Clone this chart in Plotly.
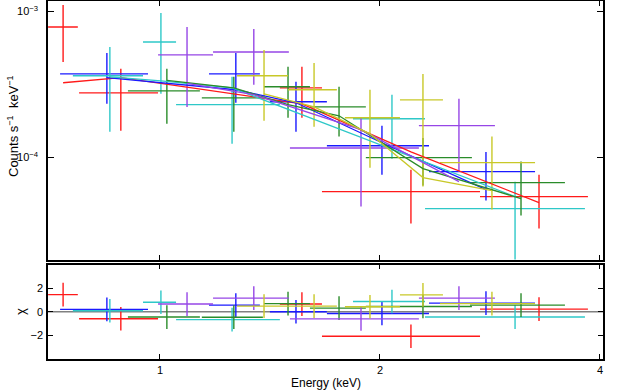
import plotly.graph_objects as go

W, H = 618, 392

# ---------------- data (energy in keV, rate in counts/s/keV) ----------------
red_E = [0.737, 0.884, 1.564, 2.205, 3.301]
red_Elo = [0.703, 0.775, 1.459, 1.666, 2.741]
red_Ehi = [0.772, 0.994, 1.666, 2.741, 3.851]
red_rate = [7.85e-4, 2.77e-4, 3.00e-4, 5.82e-5, 5.38e-5]
red_hi = [1.11e-3, 4.05e-4, 4.18e-4, 8.23e-5, 7.61e-5]
red_lo = [4.52e-4, 1.52e-4, 1.87e-4, 3.52e-5, 3.25e-5]
red_model = [3.25e-4, 3.52e-4, 2.33e-4, 1.09e-4, 4.89e-5]
red_chi = [1.45, -0.59, 0.65, -2.07, 0.22]

blue_E = [0.846, 1.270, 1.535, 2.0125, 2.793]
blue_Elo = [0.730, 1.167, 1.414, 1.692, 2.334]
blue_Ehi = [0.963, 1.370, 1.692, 2.334, 3.260]
blue_rate = [3.74e-4, 3.74e-4, 2.41e-4, 1.20e-4, 7.98e-5]
blue_hi = [5.21e-4, 5.21e-4, 3.30e-4, 1.65e-4, 1.09e-4]
blue_lo = [2.33e-4, 2.37e-4, 1.50e-4, 7.61e-5, 5.05e-5]
blue_model = [3.52e-4, 2.91e-4, 2.37e-4, 1.26e-4, 6.01e-5]
blue_chi = [0.2, 0.56, 0.0, -0.15, 0.73]

cyan_E = [0.854, 1.003, 1.255, 2.077, 3.061]
cyan_Elo = [0.760, 0.948, 1.052, 1.837, 2.305]
cyan_Ehi = [0.948, 1.052, 1.459, 2.305, 3.815]
cyan_rate = [3.63e-4, 6.19e-4, 2.30e-4, 1.84e-4, 4.45e-5]
cyan_hi = [5.72e-4, 9.79e-4, 3.57e-4, 2.69e-4, 6.81e-5]
cyan_lo = [1.50e-4, 2.73e-4, 1.24e-4, 9.80e-5, 1.5e-5]
cyan_model = [3.57e-4, 3.35e-4, 3.00e-4, 1.13e-4, 5.38e-5]
cyan_chi = [0.08, 0.8, -0.67, 0.87, -0.45]

green_E = [1.022, 1.262, 1.497, 1.758, 2.290, 3.119]
green_Elo = [0.904, 1.141, 1.388, 1.604, 1.913, 2.656]
green_Ehi = [1.134, 1.383, 1.604, 1.913, 2.672, 3.582]
green_rate = [2.86e-4, 2.56e-4, 3.05e-4, 2.22e-4, 9.95e-5, 6.71e-5]
green_hi = [4.05e-4, 3.57e-4, 4.18e-4, 3.05e-4, 1.36e-4, 9.35e-5]
green_lo = [1.70e-4, 1.50e-4, 1.87e-4, 1.39e-4, 6.40e-5, 3.99e-5]
green_model = [3.38e-4, 3.00e-4, 2.30e-4, 1.93e-4, 8.37e-5, 5.21e-5]
green_chi = [-0.45, -0.46, 0.69, 0.31, 0.45, 0.56]

purple_E = [1.089, 1.344, 1.884, 2.565]
purple_Elo = [0.994, 1.182, 1.506, 2.261]
purple_Ehi = [1.182, 1.501, 2.261, 2.873]
purple_rate = [5.05e-4, 5.29e-4, 1.16e-4, 1.65e-4]
purple_hi = [7.85e-4, 7.61e-4, 1.87e-4, 2.52e-4]
purple_lo = [2.22e-4, 3.15e-4, 4.60e-5, 7.98e-5]
purple_model = [3.22e-4, 2.69e-4, 1.55e-4, 6.81e-5]
purple_chi = [0.65, 1.15, -0.6, 1.15]

yellow_E = [1.388, 1.625, 1.938, 2.290, 2.846]
yellow_Elo = [1.275, 1.497, 1.791, 2.130, 2.416]
yellow_Ehi = [1.497, 1.746, 2.130, 2.439, 3.260]
yellow_rate = [3.63e-4, 2.91e-4, 1.87e-4, 2.48e-4, 9.20e-5]
yellow_hi = [5.46e-4, 4.45e-4, 2.91e-4, 3.74e-4, 1.39e-4]
yellow_lo = [1.78e-4, 1.62e-4, 8.50e-5, 6.30e-5, 4.38e-5]
yellow_model = [2.73e-4, 2.22e-4, 1.45e-4, 7.26e-5, 5.91e-5]
yellow_chi = [0.48, 0.48, 0.42, 1.43, 0.69]

x_major = [1, 2, 4]
x_major_text = ["1", "2", "4"]
x_minor = [0.8, 0.9, 3]
y_major = [1e-4, 1e-3]
y_major_text = ["10<sup>\u22124</sup>", "10<sup>\u22123</sup>"]
y_minor = [2e-5, 3e-5, 4e-5, 5e-5, 6e-5, 7e-5, 8e-5, 9e-5,
           2e-4, 3e-4, 4e-4, 5e-4, 6e-4, 7e-4, 8e-4, 9e-4]
chi_ticks = [-2, 0, 2]
chi_text = ["\u22122", "0", "2"]

datasets = [
    ("#ff1a1a", red_E, red_Elo, red_Ehi, red_rate, red_hi, red_lo, red_model, red_chi),
    ("#1a1aff", blue_E, blue_Elo, blue_Ehi, blue_rate, blue_hi, blue_lo, blue_model, blue_chi),
    ("#2ec8c8", cyan_E, cyan_Elo, cyan_Ehi, cyan_rate, cyan_hi, cyan_lo, cyan_model, cyan_chi),
    ("#2a8c2a", green_E, green_Elo, green_Ehi, green_rate, green_hi, green_lo, green_model, green_chi),
    ("#9646e6", purple_E, purple_Elo, purple_Ehi, purple_rate, purple_hi, purple_lo, purple_model, purple_chi),
    ("#c8c828", yellow_E, yellow_Elo, yellow_Ehi, yellow_rate, yellow_hi, yellow_lo, yellow_model, yellow_chi),
]

# ---------------- layout geometry ----------------
X0, X1 = 48, 603             # plot left/right in px
TOP_Y0, TOP_Y1 = 1, 259.5    # top panel (px from top)
BOT_Y0, BOT_Y1 = 264.5, 359  # residual panel

def py(p):
    return (H - p) / H

xdom = [X0 / W, X1 / W]
xrange_log = [-0.1532, 0.6062]

fig = go.Figure()

FONT = "Liberation Sans, Arial, Helvetica, sans-serif"

for (c, E, Elo, Ehi, rate, hi, lo, model, chi) in datasets:
    exp = [h - e for h, e in zip(Ehi, E)]
    exm = [e - l for e, l in zip(E, Elo)]
    eyp = [h - r for h, r in zip(hi, rate)]
    eym = [r - l for r, l in zip(rate, lo)]
    fig.add_trace(go.Scatter(
        x=E, y=rate, mode="markers",
        marker=dict(size=1, color="rgba(0,0,0,0)"),
        error_x=dict(type="data", symmetric=False, array=exp, arrayminus=exm,
                     width=0, thickness=1.4, color=c),
        error_y=dict(type="data", symmetric=False, array=eyp, arrayminus=eym,
                     width=0, thickness=1.4, color=c),
        xaxis="x", yaxis="y", showlegend=False, hoverinfo="skip"))
    fig.add_trace(go.Scatter(
        x=E, y=chi, mode="markers",
        marker=dict(size=1, color="rgba(0,0,0,0)"),
        error_x=dict(type="data", symmetric=False, array=exp, arrayminus=exm,
                     width=0, thickness=1.4, color=c),
        error_y=dict(type="constant", value=1, width=0, thickness=1.4, color=c),
        xaxis="x2", yaxis="y2", showlegend=False, hoverinfo="skip"))

for (c, E, Elo, Ehi, rate, hi, lo, model, chi) in datasets:
    fig.add_trace(go.Scatter(
        x=E, y=model, mode="lines", line=dict(color=c, width=1.3),
        xaxis="x", yaxis="y", showlegend=False, hoverinfo="skip"))

axis_common = dict(showgrid=False, zeroline=False, ticks="inside",
                   tickcolor="black", showline=True, linecolor="black",
                   linewidth=1.5, mirror="ticks", tickwidth=1,
                   tickfont=dict(family=FONT, size=11, color="black"))
minor_common = dict(showgrid=False, zeroline=False, ticks="inside",
                    tickcolor="black", showline=False, mirror="ticks",
                    tickwidth=1, showticklabels=False, ticklen=3)

fig.update_layout(
    width=W, height=H,
    margin=dict(l=0, r=0, t=0, b=0),
    paper_bgcolor="white", plot_bgcolor="white",
    font=dict(family=FONT, size=12, color="black"),
    xaxis=dict(axis_common, domain=xdom, anchor="y", type="log", range=xrange_log,
               tickmode="array", tickvals=x_major, showticklabels=False, ticklen=5),
    xaxis3=dict(minor_common, overlaying="x", anchor="y", type="log", range=xrange_log,
                tickmode="array", tickvals=x_minor),
    yaxis=dict(axis_common, domain=[py(TOP_Y1), py(TOP_Y0)], anchor="x", type="log",
               range=[-4.701, -2.927], tickmode="array", tickvals=y_major,
               ticktext=y_major_text, ticklen=6, ticklabelstandoff=6),
    yaxis3=dict(minor_common, overlaying="y", anchor="x", type="log",
                range=[-4.701, -2.927], tickmode="array", tickvals=y_minor),
    xaxis2=dict(axis_common, domain=xdom, anchor="y2", type="log", range=xrange_log,
                tickmode="array", tickvals=x_major, ticktext=x_major_text, ticklen=5),
    xaxis4=dict(minor_common, overlaying="x2", anchor="y2", type="log", range=xrange_log,
                tickmode="array", tickvals=x_minor),
    yaxis2=dict(axis_common, domain=[py(BOT_Y1), py(BOT_Y0)], anchor="x2",
                range=[-4, 4], tickmode="array", tickvals=chi_ticks,
                ticktext=chi_text, ticklen=5, ticklabelstandoff=1),
    shapes=[dict(type="line", xref="x2 domain", x0=0, x1=1, yref="y2", y0=0, y1=0,
                 line=dict(color="#808080", width=1.5), layer="below")],
    annotations=[
        dict(text="Energy (keV)", x=(X0 + X1) / 2 / W, y=py(383), xref="paper", yref="paper",
             showarrow=False, font=dict(family=FONT, size=12, color="black"),
             xanchor="center", yanchor="middle"),
        dict(text="Counts s<sup>\u22121</sup>  keV<sup>\u22121</sup>", x=13 / W, y=py(126),
             xref="paper", yref="paper", showarrow=False, textangle=-90,
             font=dict(family=FONT, size=13, color="black"),
             xanchor="center", yanchor="middle"),
        dict(text="\u03c7", x=20 / W, y=py(312), xref="paper", yref="paper",
             showarrow=False, textangle=-90,
             font=dict(family=FONT, size=13, color="black"),
             xanchor="center", yanchor="middle"),
    ],
)

fig.write_html("out.html",
               config={"displayModeBar": False},
               post_script="document.body.style.margin='0px';"
                           "document.body.style.overflow='hidden';")
